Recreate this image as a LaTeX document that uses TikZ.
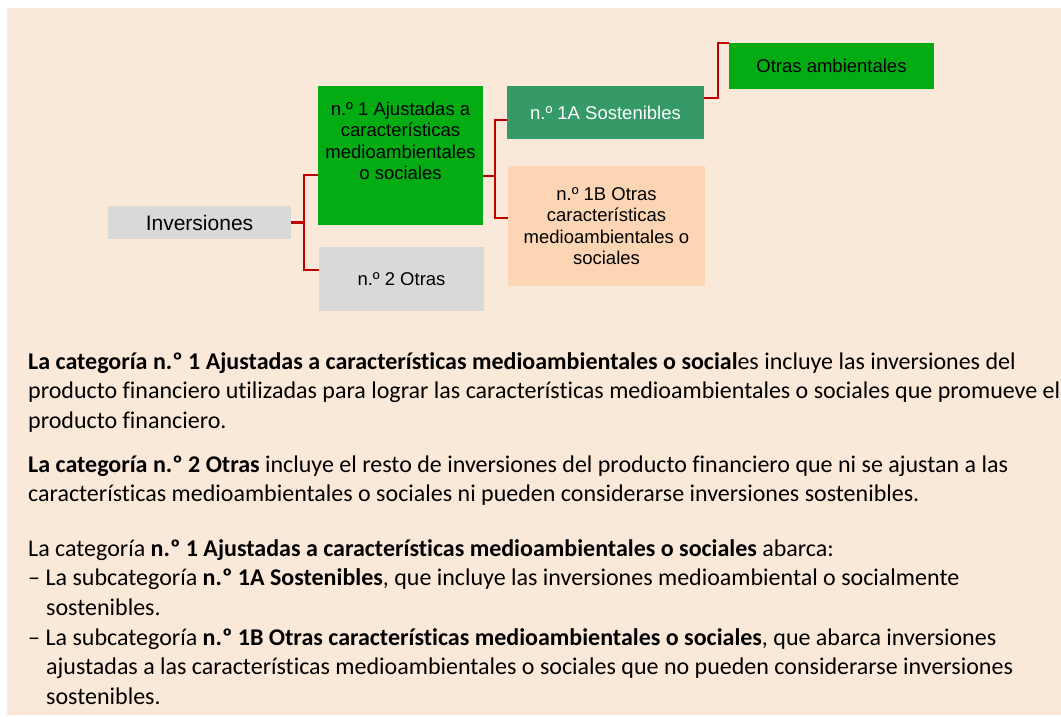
\documentclass[tikz,border=0pt]{standalone}
\usepackage{fontspec}
\setmainfont{Carlito}[Ligatures={NoCommon,NoContextual}]
\newfontfamily\arialfont{Liberation Sans}
\usetikzlibrary{positioning}
\definecolor{peachbg}{HTML}{FAE8D8}
\definecolor{catgreen}{HTML}{03AC13}
\definecolor{susgreen}{HTML}{369968}
\definecolor{otherpeach}{HTML}{FCD5B4}
\definecolor{boxgray}{HTML}{D9D9D9}
\definecolor{linkred}{HTML}{C00000}

\begin{document}
\begin{tikzpicture}[x=1pt, y=-1pt,
  catbox/.style={rectangle, inner sep=0pt, align=center, text=black,
    font=\arialfont\fontsize{18.5}{21.5}\selectfont},
  link/.style={draw=linkred, line width=2.6pt},
  bodyline/.style={anchor=base west, inner sep=0pt, text=black,
    font=\fontsize{24}{29.5}\selectfont}]

% page and background
\useasboundingbox (0,0) rectangle (1061,717);
\fill[white] (0,0) rectangle (1061,717);
\fill[peachbg] (7,8) rectangle (1061,715);

% tree of categories
\node[catbox, fill=boxgray, minimum width=183pt, minimum height=33pt,
  font=\arialfont\fontsize{21}{25}\selectfont] (inv) at (199.5,222.5) {Inversiones};
\node[catbox, fill=catgreen, minimum width=165pt, minimum height=139pt] (cat1) at (400.5,155.5) {};
\node[catbox, anchor=north] (cat1txt) at ([yshift=-16pt]cat1.north)
  {n.º 1 Ajustadas a\\características\\medioambientales\\o sociales};
\node[catbox, fill=boxgray, minimum width=165pt, minimum height=64pt] (cat2) at (401.5,279) {n.º 2 Otras};
\node[catbox, fill=susgreen, text=white, minimum width=197pt, minimum height=53pt] (sub1a) at (605.5,112.5) {n.º 1A Sostenibles};
\node[catbox, fill=otherpeach, minimum width=197pt, minimum height=120pt] (sub1b) at (606.5,226)
  {n.º 1B Otras\\características\\medioambientales o\\sociales};
\node[catbox, fill=catgreen, minimum width=205pt, minimum height=46pt] (otramb) at (831.5,66) {Otras ambientales};

% connectors
\coordinate (fork1) at (304,222.5);
\coordinate (fork2) at (495,176);
\coordinate (fork3) at (718,98);
\draw[link] (inv.east) -- (fork1);
\draw[link] (cat1.west |- 0,175) -| (fork1) |- (cat2.west |- 0,270);
\draw[link] (cat1.east |- fork2) -- (fork2);
\draw[link] (sub1a.west |- 0,120) -| (fork2) |- (sub1b.west |- 0,218);
\draw[link] (sub1a.east |- fork3) -- (fork3) |- (otramb.west |- 0,43);

% explanatory text
\node[bodyline] (p1a) at (28,369) {\textbf{La categoría n.º 1 Ajustadas a características medioambientales o social}es incluye las inversiones del};
\node[bodyline] (p1b) at (28,398.5) {producto financiero utilizadas para lograr las características medioambientales o sociales que promueve el};
\node[bodyline] (p1c) at (28,428) {producto financiero.};
\node[bodyline] (p2a) at (28,472) {\textbf{La categoría n.º 2 Otras} incluye el resto de inversiones del producto financiero que ni se ajustan a las};
\node[bodyline] (p2b) at (28,501.5) {características medioambientales o sociales ni pueden considerarse inversiones sostenibles.};
\node[bodyline] (p3a) at (28,556) {La categoría \textbf{n.º 1 Ajustadas a características medioambientales o sociales} abarca:};
\node[bodyline] (p3b) at (28,585.5) {– La subcategoría \textbf{n.º 1A Sostenibles}, que incluye las inversiones medioambiental o socialmente};
\node[bodyline] (p3c) at (46,615) {sostenibles.};
\node[bodyline] (p3d) at (28,645) {– La subcategoría \textbf{n.º 1B Otras características medioambientales o sociales}, que abarca inversiones};
\node[bodyline] (p3e) at (46,674.5) {ajustadas a las características medioambientales o sociales que no pueden considerarse inversiones};
\node[bodyline] (p3f) at (46,704) {sostenibles.};

\end{tikzpicture}
\end{document}
